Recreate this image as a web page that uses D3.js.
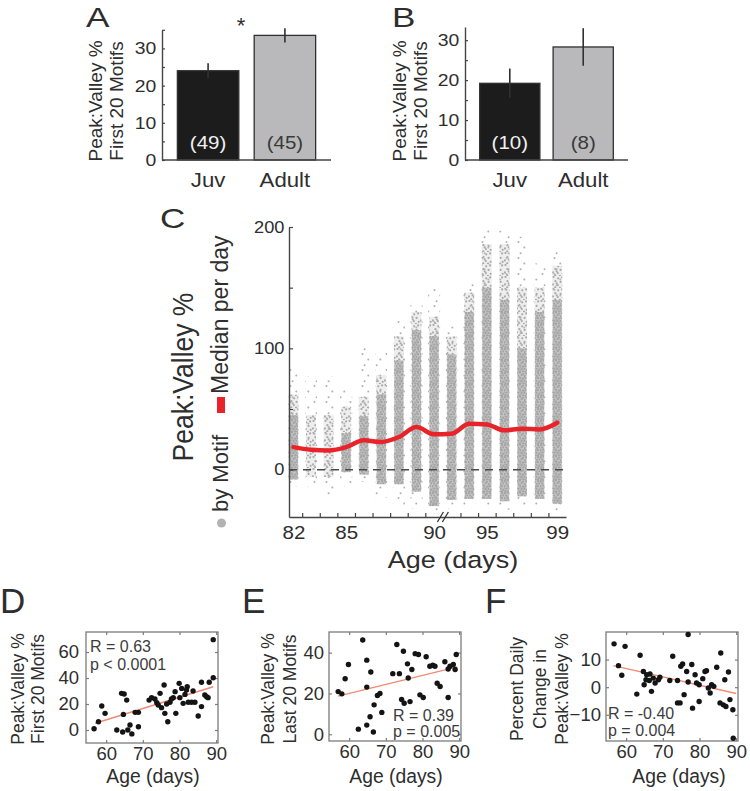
<!DOCTYPE html>
<html><head><meta charset="utf-8">
<script src="https://cdn.jsdelivr.net/npm/d3@7"></script>
<style>body{margin:0;background:#fff}svg{display:block;font-family:"Liberation Sans",Arial,Helvetica,sans-serif}</style>
</head><body><script>
// ---------------- data ----------------
const groups = ["Juv", "Adult"];
const aMeans = [24, 33.5], aErr = [2.0, 1.9], aN = ["(49)", "(45)"];
const bMeans = [19.2, 28.3], bErr = [3.7, 4.7], bN = ["(10)", "(8)"];
const barLabelTicks = [0, 10, 20, 30];
const barMinorTicks = [0, 5, 10, 15, 20, 25, 30, 35];

const cDays = [82, 83, 84, 85, 86, 87, 88, 89, 90, 93, 94, 95, 96, 97, 98, 99];
const cMedian = [18.6, 16.5, 15.9, 18.6, 24.2, 22.8, 26.9, 35.1, 29.1, 29.7, 37.9, 37.3, 32.4, 33.8, 33.2, 38.7];
const cLo     = [-14, -14, -22, -14, -10, -23, -30, -32, -36, -32, -30, -30, -33, -30, -30, -34];
const cCoreLo = [-8, -6, -6, -2, -4, -12, -12, -18, -30, -25, -24, -24, -26, -22, -24, -28];
const cCoreHi = [45, -6, -6, 30, 44, 62, 90, 115, 110, 95, 130, 150, 140, 100, 130, 140];
const cMidHi  = [62, 45, 45, 52, 60, 78, 110, 130, 126, 110, 146, 186, 186, 150, 150, 168];
const cHi     = [84, 77, 77, 68, 101, 97, 123, 138, 150, 118, 155, 198, 197, 192, 170, 182];
const cDayLabels = [82, 85, 90, 95, 99];
const cYLabels = [0, 100, 200];
const cYTicks = [0, 50, 100, 150, 200];

const scatXTicks = [60, 70, 80, 90];
const dAge = [56.7,57.9,58.8,59.7,62.9,64.2,64.9,65.6,64.7,64.5,65.9,66.5,67,68.8,67.9,68.8,71.7,72.4,73.3,73.8,74.2,74.7,75.1,76,75.8,76.5,76.8,77.4,77.8,78.3,78.8,79,79.9,80.1,80.6,81,81.5,81.9,82.1,82.4,83.3,83.7,84.2,85.1,86,86,86.9,87.4,87.8,88.1,89.2,89.2];
const dVal = [1,6.4,18.5,12.8,0,28.2,27.7,23,12,-1.5,0,3.8,-3,2.5,13.6,13.6,23,24.9,23.8,21,19.2,28.2,17.2,12.8,34.6,20,6.4,21.3,23.8,24.9,29.5,12.8,35.9,24.9,32,20.5,27.4,30.8,33.3,21.3,21.3,30,21.3,10.8,18,36.7,26.9,25.6,24.9,36.7,40.2,69.5];
const dFitX = [57, 89.2], dFitY = [5.2, 33.3];
const dYTicks = [0, 20, 40, 60];

const eAge = [57,58,58.9,59.8,63.7,62.5,64.8,64.8,65.9,64.8,65.7,66.6,66.8,67.7,68.4,68.9,71.9,73.7,73,74.8,75,75.9,76.1,77.1,76.6,78,78.9,79.3,80.2,81,82,82.8,83.4,84,84.8,86.1,87,87.5,88.4,88.9,89.2,87,74.3];
const eVal = [20.9,19.8,27.2,34.2,46.2,2.5,36.3,23.1,30.5,4.5,8.6,1.1,14.4,19,20,10.7,29.7,29.7,44,40.7,15.2,34.5,27.6,31.7,16,39.5,39.1,19.3,18,38,33.3,33.8,33.3,25,23.4,35.5,18,33.3,34.2,31.7,39.1,32,17];
const eFitX = [57, 89.5], eFitY = [18.7, 33];
const eYTicks = [0, 20, 40];

const fAge = [56.7,59.7,57.9,58.8,62.9,63.8,64.7,64.9,65.6,65.4,66.3,66.5,66.9,67.4,67.9,68.8,69.2,71.9,72.7,74,74,74.7,74.9,75.4,75.8,76.5,76.9,76.9,77.9,78.1,78.8,79.2,79.9,79.9,80.9,81.5,81.9,82.4,82.9,83.3,83.9,84.7,85.8,85.6,86.5,86.9,87.2,87.9,88.3,89.1,89.2];
const fVal = [15.7,14.8,7.8,4.3,-2.5,11.6,5.7,0.9,4.5,2.7,2.4,4.8,-1.5,3.3,1.5,2.7,3.6,2.4,11.2,2.4,-5.7,-5.7,7.6,8.4,-2.7,5.7,19.1,1.9,8.2,-7.6,4.5,1.5,0.9,-5.2,3.1,5.7,6,-0.3,-2.1,0.9,0.3,7.2,12.4,-5.7,-6.4,2.7,-7,5.5,-4.5,-8.2,-18.5];
const fFitX = [56.5, 90], fFitY = [7.8, -2.3];
const fYTicks = [-10, 0, 10];

// ---------------- drawing ----------------
const FONT = '"Liberation Sans", Arial, Helvetica, sans-serif';
const INK = "#2e2e2e";
const AX = "#454545";
const SX = 1.14;
const svg = d3.select("body").append("svg").attr("width", 750).attr("height", 791);

function label(g, x, y, s, o = {}) {
  let tr = `translate(${x},${y})`;
  if (o.sx) tr += ` scale(${o.sx},1)`;
  if (o.rot) tr += ` rotate(${o.rot})`;
  return g.append("text").attr("transform", tr)
    .attr("text-anchor", o.anchor || "middle")
    .attr("dy", o.dy || 0)
    .attr("font-size", o.size || 16)
    .attr("fill", o.fill || INK)
    .text(s);
}
function styleAxis(sel, size, sx) {
  sel.attr("font-family", FONT).attr("font-size", size);
  sel.select(".domain").attr("stroke", AX).attr("stroke-width", 1.4);
  sel.selectAll(".tick line").attr("stroke", AX).attr("stroke-width", 1.2);
  sel.selectAll(".tick text").attr("fill", INK);
  if (sx) sel.selectAll(".tick text").attr("transform", `scale(${sx},1)`);
}

// panel letters
label(svg, 86, 27, "A", {size: 27, sx: 1.3, anchor: "start"});
label(svg, 392, 27, "B", {size: 27, sx: 1.3, anchor: "start"});
label(svg, 160, 228, "C", {size: 27, sx: 1.3, anchor: "start"});
label(svg, 0, 613, "D", {size: 35, anchor: "start"});
label(svg, 242, 613, "E", {size: 35, anchor: "start"});
label(svg, 485, 613, "F", {size: 35, anchor: "start"});

// ---- bar panels A, B ----
function barPanel(p) {
  const g = svg.append("g");
  const x = d3.scaleBand().domain(groups).range([p.ax, p.xEnd]).paddingInner(p.pi).paddingOuter(p.po);
  const y = d3.scaleLinear().domain([0, p.yMax]).range([160, p.yTop]);
  const bw = x.bandwidth();
  g.selectAll(".bar").data(p.means).join("rect")
    .attr("x", (d, i) => x(groups[i])).attr("y", d => y(d))
    .attr("width", bw).attr("height", d => y(0) - y(d))
    .attr("fill", (d, i) => i ? "#b9b9bb" : "#1c1c1c")
    .attr("stroke", "#303030").attr("stroke-width", 1.3);
  g.selectAll(".err").data(p.means).join("line")
    .attr("x1", (d, i) => x(groups[i]) + bw / 2).attr("x2", (d, i) => x(groups[i]) + bw / 2)
    .attr("y1", (d, i) => y(d - p.err[i])).attr("y2", (d, i) => y(d + p.err[i]))
    .attr("stroke", "#303030").attr("stroke-width", 1.6);
  p.n.forEach((s, i) => label(g, x(groups[i]) + bw / 2, 149, s, {size: 18, sx: SX, fill: i ? "#3a3a3a" : "#f0f0f0"}));
  const ya = g.append("g").attr("transform", `translate(${p.ax},0)`)
    .call(d3.axisLeft(y).tickValues(barMinorTicks.filter(v => v <= p.yMax)).tickSize(-3).tickSizeOuter(0).tickPadding(5)
      .tickFormat(v => barLabelTicks.includes(v) ? v : ""));
  styleAxis(ya, 17, SX);
  g.append("line").attr("x1", p.ax).attr("x2", p.xEnd).attr("y1", y(0)).attr("y2", y(0))
    .attr("stroke", AX).attr("stroke-width", 1.4);
  groups.forEach(s => label(g, x(s) + bw / 2, 187, s, {size: 19.5, sx: SX}));
  label(g, p.t1x, 101, "Peak:Valley %", {size: 19, rot: -90, dy: "0.35em"});
  label(g, p.t2x, 101, "First 20 Motifs", {size: 19, rot: -90, dy: "0.35em"});
  return {g, x, y};
}
const pa = barPanel({ax: 162, xEnd: 331, pi: 0.2, po: 0.2, yMax: 35, yTop: 29.8, means: aMeans, err: aErr, n: aN, t1x: 95, t2x: 116});
label(pa.g, 241, 33, "*", {size: 22});
barPanel({ax: 465, xEnd: 628, pi: 0.18, po: 0.2, yMax: 33.3, yTop: 27, means: bMeans, err: bErr, n: bN, t1x: 399, t2x: 420});

// ---- panel C ----
const defs = svg.append("defs");
function dotPattern(id, w, h, pts, r, fill, bg) {
  const p = defs.append("pattern").attr("id", id).attr("patternUnits", "userSpaceOnUse").attr("width", w).attr("height", h);
  if (bg) p.append("rect").attr("width", w).attr("height", h).attr("fill", bg);
  pts.forEach(([cx, cy]) => p.append("circle").attr("cx", cx).attr("cy", cy).attr("r", r).attr("fill", fill));
}
dotPattern("pDense", 12, 12, [[0.8,1.2],[3.9,0.5],[7.1,1.6],[10.2,0.9],[2.2,3.6],[5.6,3.1],[8.8,4.0],[11.4,3.3],[0.6,6.1],[4.1,5.8],[6.9,6.7],[10.0,6.2],[2.7,8.6],[5.5,9.2],[8.4,8.8],[11.3,9.6],[1.3,11.0],[7.2,11.3],[4.3,11.7],[9.9,11.6]], 1.1, "#a4a4a4", "rgba(178,178,178,0.7)");
dotPattern("pMed", 12, 12, [[1.5,1.0],[6.2,2.3],[10.1,1.4],[3.4,5.2],[8.6,5.9],[0.9,8.4],[5.8,9.1],[10.7,9.8],[3.2,11.4],[7.9,11.9],[4.7,7.3]], 1.1, "#aaaaaa", "rgba(200,200,200,0.3)");
dotPattern("pSparse", 12, 16, [[2.5,2.1],[8.3,7.4],[4.6,13.2]], 1.0, "#b0b0b0", null);

const gc = svg.append("g");
const xC = d3.scaleLinear().domain([-0.25, 15.5]).range([289, 566]);
const yC = d3.scaleLinear().domain([-39, 200]).range([517, 227]);
const colW = 10;
cDays.forEach((d, i) => {
  const cx = xC(i) - colW / 2;
  gc.append("rect").attr("x", cx - 1).attr("width", colW + 2).attr("y", yC(cHi[i])).attr("height", yC(cLo[i]) - yC(cHi[i])).attr("fill", "url(#pSparse)");
  gc.append("rect").attr("x", cx).attr("width", colW).attr("y", yC(cMidHi[i])).attr("height", Math.max(0, yC(cCoreLo[i]) - yC(cMidHi[i]))).attr("fill", "url(#pMed)");
  if (cCoreHi[i] > cCoreLo[i])
    gc.append("rect").attr("x", cx + 0.5).attr("width", colW - 1).attr("y", yC(cCoreHi[i])).attr("height", yC(cCoreLo[i]) - yC(cCoreHi[i])).attr("fill", "url(#pDense)");
});
// zero line
gc.append("line").attr("x1", xC(-0.25)).attr("x2", xC(15.5)).attr("y1", yC(0)).attr("y2", yC(0))
  .attr("stroke", "#4a4a4a").attr("stroke-width", 1.6).attr("stroke-dasharray", "8,6");
// median line
gc.append("path").datum(cMedian)
  .attr("d", d3.line().x((d, i) => xC(i)).y(d => yC(d)).curve(d3.curveMonotoneX))
  .attr("fill", "none").attr("stroke", "#e8242a").attr("stroke-width", 4.5).attr("stroke-linejoin", "round").attr("stroke-linecap", "round");
// axes
const cya = gc.append("g").attr("transform", `translate(${xC(-0.25)},0)`)
  .call(d3.axisLeft(yC).tickValues(cYTicks).tickSize(-4).tickSizeOuter(0).tickPadding(4)
    .tickFormat(v => cYLabels.includes(v) ? v : ""));
styleAxis(cya, 16, SX);
const midTicks = d3.range(15).filter(i => i !== 8).map(i => i + 0.5);
const cxa = gc.append("g").attr("transform", `translate(0,${yC(-39)})`)
  .call(d3.axisBottom(xC).tickValues(midTicks).tickSize(-4).tickSizeOuter(0).tickFormat(""));
styleAxis(cxa, 18);
const cxl = gc.append("g").attr("transform", `translate(0,${yC(-39)})`)
  .call(d3.axisBottom(xC).tickValues(cDayLabels.map(d => cDays.indexOf(d))).tickSize(0).tickPadding(9).tickFormat(i => cDays[i]));
styleAxis(cxl, 18, SX);
cxl.select(".domain").remove();
// axis break
const bx = xC(8.5);
[-2.5, 2.5].forEach(o => gc.append("line").attr("x1", bx + o - 3).attr("x2", bx + o + 3).attr("y1", yC(-39) + 5).attr("y2", yC(-39) - 5)
  .attr("stroke", "#333").attr("stroke-width", 1.3));
label(gc, 453, 568, "Age (days)", {size: 23.7, sx: SX});
label(gc, 182, 377, "Peak:Valley %", {size: 26.5, sx: SX, rot: -90, dy: "0.35em"});
// legend
gc.append("circle").attr("cx", 221.5).attr("cy", 523).attr("r", 4.5).attr("fill", "#b3b3b3");
label(gc, 220, 512, "by Motif", {size: 22, rot: -90, dy: "0.35em", anchor: "start"});
gc.append("rect").attr("x", 217).attr("y", 397).attr("width", 8).attr("height", 16).attr("fill", "#e8242a");
label(gc, 220, 394, "Median per day", {size: 23, rot: -90, dy: "0.35em", anchor: "start"});

// ---- scatter panels D, E, F ----
function scatterPanel(p) {
  const g = svg.append("g");
  const W = 132;
  const x = d3.scaleLinear().domain([54.5, 90.5]).range([p.x0, p.x0 + W]);
  const y = d3.scaleLinear().domain(p.yDom).range([p.y1, p.y0]);
  g.append("rect").attr("x", p.x0).attr("y", p.y0).attr("width", W).attr("height", p.y1 - p.y0)
    .attr("fill", "none").attr("stroke", "#7c7c7c").attr("stroke-width", 1.3);
  const axB = g.append("g").attr("transform", `translate(0,${p.y1})`)
    .call(d3.axisBottom(x).tickValues(scatXTicks).tickSize(-3).tickSizeOuter(0).tickPadding(4));
  const axT = g.append("g").attr("transform", `translate(0,${p.y0})`)
    .call(d3.axisTop(x).tickValues(scatXTicks).tickSize(-3).tickSizeOuter(0).tickFormat(""));
  const axL = g.append("g").attr("transform", `translate(${p.x0},0)`)
    .call(d3.axisLeft(y).tickValues(p.yTicks).tickSize(-3).tickSizeOuter(0).tickPadding(p.pad));
  const axR = g.append("g").attr("transform", `translate(${p.x0 + W},0)`)
    .call(d3.axisRight(y).tickValues(p.yTicks).tickSize(-3).tickSizeOuter(0).tickFormat(""));
  [axB, axT, axL, axR].forEach(a => {
    styleAxis(a, 18.5);
    a.select(".domain").attr("stroke", "none");
    a.selectAll(".tick line").attr("stroke", "#7c7c7c");
  });
  g.append("line").attr("x1", x(p.fitX[0])).attr("x2", x(p.fitX[1])).attr("y1", y(p.fitY[0])).attr("y2", y(p.fitY[1]))
    .attr("stroke", "#f28a74").attr("stroke-width", 1.4);
  g.selectAll(".pt").data(p.age).join("circle")
    .attr("cx", d => x(d)).attr("cy", (d, i) => y(p.val[i])).attr("r", 2.7).attr("fill", "#141414");
  p.stats.forEach(s => label(g, s[0], s[1], s[2], {size: 16, anchor: "start", fill: "#3c3c3c"}));
  label(g, p.x0 + W / 2 + p.ageDx, 783, "Age (days)", {size: 19.3});
  p.title.forEach((t, i) => label(g, p.tx[i], 689, t, {size: 17.5, rot: -90, dy: "0.35em"}));
}
scatterPanel({x0: 86, y0: 632, y1: 743, yDom: [-10, 75.4], yTicks: dYTicks, pad: 7,
  age: dAge, val: dVal, fitX: dFitX, fitY: dFitY,
  stats: [[90, 652, "R = 0.63"], [90, 670, "p < 0.0001"]], ageDx: 1,
  title: ["Peak:Valley %", "First 20 Motifs"], tx: [17.5, 37.5]});
scatterPanel({x0: 329, y0: 632, y1: 741, yDom: [-3.3, 50.1], yTicks: eYTicks, pad: 5,
  age: eAge, val: eVal, fitX: eFitX, fitY: eFitY,
  stats: [[393, 721, "R = 0.39"], [393, 737, "p = 0.005"]], ageDx: 1,
  title: ["Peak:Valley %", "Last 20 Motifs"], tx: [267.5, 289.5]});
scatterPanel({x0: 606, y0: 632, y1: 741, yDom: [-19.5, 20], yTicks: fYTicks, pad: 5,
  age: fAge, val: fVal, fitX: fFitX, fitY: fFitY,
  stats: [[608, 719, "R = -0.40"], [608, 736, "p = 0.004"]], ageDx: 7,
  title: ["Percent Daily", "Change in", "Peak:Valley %"], tx: [517, 539.5, 561.5]});
</script></body></html>
